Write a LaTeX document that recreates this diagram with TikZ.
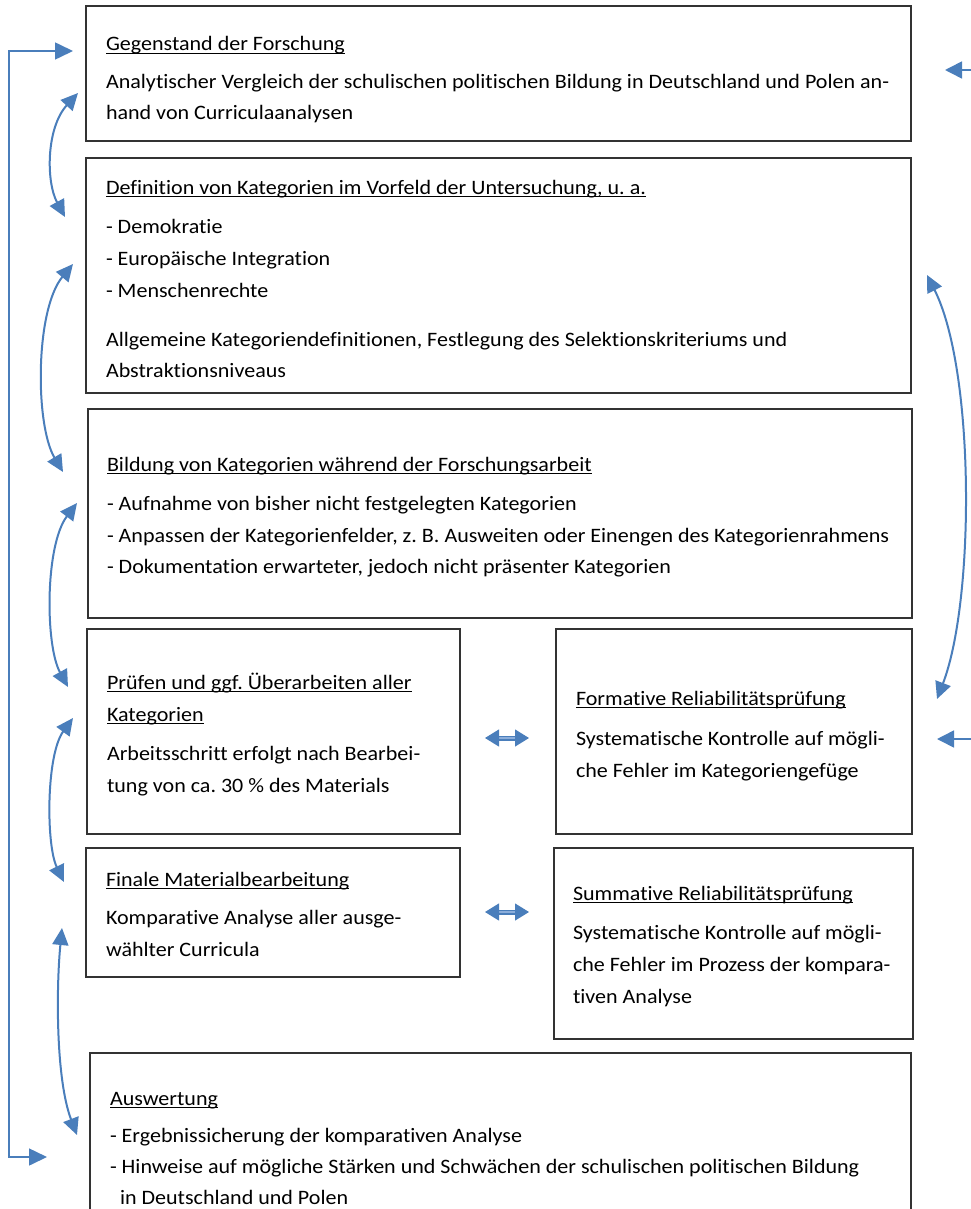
\documentclass[tikz,border=0pt]{standalone}
\usepackage{fontspec}
\setmainfont{Carlito}[FakeStretch=1.075,RawFeature={-liga}]
\usetikzlibrary{arrows.meta}
\definecolor{arrowblue}{HTML}{4A7EBB}
\definecolor{shaftblue}{HTML}{8CAEDB}
\definecolor{boxgray}{HTML}{333333}
\newsavebox\myulbox
\newcommand\myul[1]{\sbox\myulbox{#1}\rlap{\rule[-2.6pt]{\wd\myulbox}{0.9pt}}\usebox\myulbox}
\newcommand\boxnode[5]{\node[stepbox,anchor=north west,minimum width=#4pt,minimum height=#5pt] (#1) at (#2,#3) {};}
\newcommand\txtline[4]{\node[txt] (#1) at (#2,#3) {#4};}
\begin{document}
\frenchspacing
\begin{tikzpicture}[x=1pt,y=-1pt,
  stepbox/.style={draw=boxgray,line width=1.3pt,inner sep=0pt,outer sep=0pt},
  txt/.style={anchor=base west,inner sep=0pt,outer sep=0pt,font=\fontsize{20.5}{23}\selectfont},
  bentarrow/.style={draw=arrowblue,line width=2pt,{Triangle[length=17pt,width=16pt]}-{Triangle[length=17pt,width=16pt]}},
  fbarrow/.style={draw=arrowblue,line width=1.6pt,{Triangle[length=18pt,width=17pt]}-{Triangle[length=18pt,width=17pt]}},
  inarrow/.style={draw=arrowblue,line width=1.6pt,-{Triangle[length=17pt,width=17pt]}},
  dblarrow/.style={draw=arrowblue,line width=1.2pt,double=shaftblue,double distance=2.6pt,{Triangle[length=14pt,width=17pt]}-{Triangle[length=14pt,width=17pt]}}]
\useasboundingbox (0,0) rectangle (970,1209);

% boxes
\boxnode{b1}{86}{6}{825}{135}
\boxnode{b2}{86}{158}{825}{235}
\boxnode{b3}{88}{409}{824}{209}
\boxnode{b4}{87}{629}{373}{205}
\boxnode{b5}{556}{629}{356}{205}
\boxnode{b6}{86}{848}{374}{129}
\boxnode{b7}{554}{848}{359}{191}
\boxnode{b8}{90}{1053}{821}{170}

% texts
\txtline{t1a}{106}{51}{\myul{Gegenstand der Forschung}}
\txtline{t1b}{106}{89}{Analytischer Vergleich der schulischen politischen Bildung in Deutschland und Polen an-}
\txtline{t1c}{106}{120}{hand von Curriculaanalysen}

\txtline{t2a}{106}{194}{\myul{Definition von Kategorien im Vorfeld der Untersuchung, u. a.}}
\txtline{t2b}{106}{233}{- Demokratie}
\txtline{t2c}{106}{265}{- Europäische Integration}
\txtline{t2d}{106}{297}{- Menschenrechte}
\txtline{t2e}{106}{346}{Allgemeine Kategoriendefinitionen, Festlegung des Selektionskriteriums und}
\txtline{t2f}{106}{377}{Abstraktionsniveaus}

\txtline{t3a}{107}{471}{\myul{Bildung von Kategorien während der Forschungsarbeit}}
\txtline{t3b}{107}{510}{- Aufnahme von bisher nicht festgelegten Kategorien}
\txtline{t3c}{107}{542}{- Anpassen der Kategorienfelder, z. B. Ausweiten oder Einengen des Kategorienrahmens}
\txtline{t3d}{107}{573}{- Dokumentation erwarteter, jedoch nicht präsenter Kategorien}

\txtline{t4a}{107}{689}{\myul{Prüfen und ggf. Überarbeiten aller}}
\txtline{t4b}{107}{721}{\myul{Kategorien}}
\txtline{t4c}{107}{760}{Arbeitsschritt erfolgt nach Bearbei-}
\txtline{t4d}{107}{792}{tung von ca. 30 \% des Materials}

\txtline{t5a}{576}{705}{\myul{Formative Reliabilitätsprüfung}}
\txtline{t5b}{576}{745}{Systematische Kontrolle auf mögli-}
\txtline{t5c}{576}{777}{che Fehler im Kategoriengefüge}

\txtline{t6a}{106}{886}{\myul{Finale Materialbearbeitung}}
\txtline{t6b}{106}{924}{Komparative Analyse aller ausge-}
\txtline{t6c}{106}{956}{wählter Curricula}

\txtline{t7a}{573}{900}{\myul{Summative Reliabilitätsprüfung}}
\txtline{t7b}{573}{939}{Systematische Kontrolle auf mögli-}
\txtline{t7c}{573}{971}{che Fehler im Prozess der kompara-}
\txtline{t7d}{573}{1003}{tiven Analyse}

\txtline{t8a}{110}{1105}{\myul{Auswertung}}
\txtline{t8b}{110}{1142}{- Ergebnissicherung der komparativen Analyse}
\txtline{t8c}{110}{1173}{- Hinweise auf mögliche Stärken und Schwächen der schulischen politischen Bildung}
\txtline{t8d}{120}{1204}{in Deutschland und Polen}

% feedback loop on the left
\coordinate (fbTop) at (73,51);
\coordinate (fbMid) at (9,600);
\coordinate (fbBot) at (47,1157);
\draw[fbarrow] (fbTop) -| (fbMid) |- (fbBot);

% curved double arrows on the left
\coordinate (l1a) at (78,93);   \coordinate (l1b) at (65,217);
\coordinate (l2a) at (73,264);  \coordinate (l2b) at (63,472);
\coordinate (l3a) at (77,503);  \coordinate (l3b) at (68,687);
\coordinate (l4a) at (73,718);  \coordinate (l4b) at (64,882);
\coordinate (l5a) at (62,928);  \coordinate (l5b) at (77,1135);
\draw[bentarrow] (l1a) .. controls (46,128) and (46,182) .. (l1b);
\draw[bentarrow] (l2a) .. controls (35,310) and (35,425) .. (l2b);
\draw[bentarrow] (l3a) .. controls (45,545) and (45,645) .. (l3b);
\draw[bentarrow] (l4a) .. controls (46,755) and (46,845) .. (l4b);
\draw[bentarrow] (l5a) .. controls (56,990) and (56,1080) .. (l5b);

% right side
\coordinate (r1s) at (975,70);  \coordinate (r1t) at (945,70);
\coordinate (r2s) at (975,739); \coordinate (r2t) at (937,739);
\coordinate (rca) at (927,275); \coordinate (rcb) at (937,699);
\draw[inarrow] (r1s) -- (r1t);
\draw[inarrow] (r2s) -- (r2t);
\draw[bentarrow] (rca) .. controls (975,370) and (975,600) .. (rcb);

% middle double arrows
\coordinate (m1a) at (485,738); \coordinate (m1b) at (529,738);
\coordinate (m2a) at (485,912); \coordinate (m2b) at (529,912);
\draw[dblarrow] (m1a) -- (m1b);
\draw[dblarrow] (m2a) -- (m2b);
\end{tikzpicture}
\end{document}
